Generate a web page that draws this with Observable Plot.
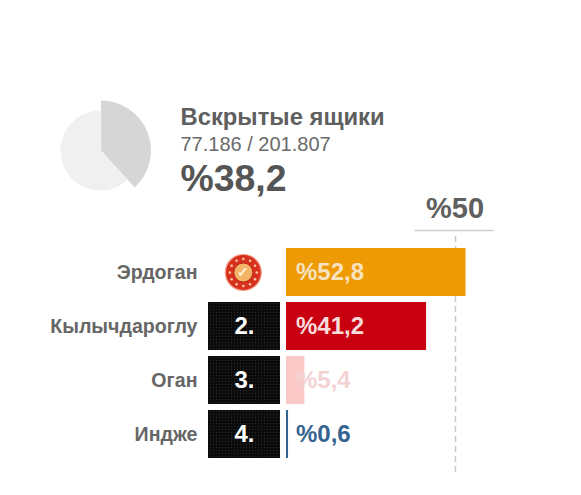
<!DOCTYPE html>
<html><head><meta charset="utf-8">
<script src="https://cdn.jsdelivr.net/npm/d3@7"></script>
<script src="https://cdn.jsdelivr.net/npm/@observablehq/plot@0.6"></script>
<style>html,body{margin:0;padding:0;background:#fff}svg{display:block}</style>
</head><body><div id="chart"></div>
<script>
const candidates = ["Эрдоган","Кылычдароглу","Оган","Индже"];
const shares = [52.8,41.2,5.4,0.6];
const shareLabels = ["%52,8","%41,2","%5,4","%0,6"];
const ranks = ["","2.","3.","4."];
const barColors = ["#ee9a05","#c8000f","#fcc9c9","#34638f"];
const labelColors = ["#f7e3c0","#f8dcdc","#f3d3d3","#34638f"];
const openedShare = 38.2;
const threshold = 50;
const thresholdLabel = "%50";
const headTitle = "Вскрытые ящики";
const headCounts = "77.186 / 201.807";
const headShare = "%38,2";

const rows = candidates.map((c,i)=>({c,v:shares[i],l:shareLabels[i],r:ranks[i],col:barColors[i],lc:labelColors[i]}));
const fontStack = "'Liberation Sans',Arimo,Helvetica,Arial,sans-serif";
const slice = (a,b)=>({draw(ctx,size){
  d3.arc().innerRadius(0).outerRadius(Math.sqrt(size/Math.PI)).startAngle(a).endAngle(b).context(ctx)();
}});
const A = openedShare/100*2*Math.PI;
const headText = (text,dy,size,weight,fill)=>Plot.text([text],{frameAnchor:"top-left",dx:180,dy,text:d=>d,fontSize:size,fontWeight:weight,fill,textAnchor:"start",lineAnchor:"middle"});
const leader = candidates[0];
const iconStars = d3.range(12).map(i=>i/12*2*Math.PI);
const texture = () => {
  const defs = d3.create("svg:defs");
  const p = defs.append("pattern").attr("id","rankTexture").attr("patternUnits","userSpaceOnUse").attr("width",3).attr("height",3);
  p.append("rect").attr("width",3).attr("height",3).attr("fill","#0b0b0b");
  p.append("rect").attr("width",1).attr("height",1).attr("fill","#2b2b2b");
  return defs.node();
};
const iconX = -12.7;

const chart = Plot.plot({
  width:581,height:495,margin:0,
  style:{fontFamily:fontStack,background:"#fff"},
  x:{type:"linear",domain:[0,100],range:[286,626],axis:null},
  y:{type:"band",domain:candidates,range:[242,464],padding:0.111,axis:null},
  marks:[
    texture,
    Plot.dot([0],{frameAnchor:"top-left",dx:100,dy:150,r:40,symbol:slice(A,2*Math.PI),fill:"#f0f0f0"}),
    Plot.dot([0],{frameAnchor:"top-left",dx:100.5,dy:150,r:50,symbol:slice(0,A),fill:"#d6d6d6"}),
    headText(headTitle,117,23.8,"bold","#5f5f5f"),
    headText(headCounts,144,20,"normal","#6a6a6a"),
    headText(headShare,179,37.4,"bold","#555"),
    Plot.text([thresholdLabel],{x:()=>threshold,y:()=>leader,dx:-1.5,dy:-64,text:d=>d,fontSize:29,fontWeight:"bold",fill:"#5f5f5f"}),
    Plot.ruleY([leader],{y:d=>d,x1:()=>threshold-11.8,x2:()=>threshold+11.5,dx:-1.5,dy:-42,stroke:"#cfcfcf",strokeWidth:1.5}),
    Plot.ruleX([threshold],{dx:-1,stroke:"#c9c9c9",strokeWidth:1.5,strokeDasharray:"6,4",insetTop:236,insetBottom:20}),
    Plot.barX(rows,{x1:0,x2:"v",y:"c",fill:"col"}),
    Plot.barX(rows.filter(d=>d.r),{x1:-22.94,x2:-1.76,y:"c",fill:"url(#rankTexture)"}),
    Plot.text(rows,{x:0,y:"c",text:"c",textAnchor:"end",dx:-89,fontSize:19.6,fontWeight:"bold",fill:"#666"}),
    Plot.text(rows,{x:-12.35,y:"c",text:"r",fontSize:24,fontWeight:"bold",fill:"#fff"}),
    Plot.text(rows,{x:0,y:"c",text:"l",textAnchor:"start",dx:9.5,fontSize:24,fontWeight:"bold",fill:"lc"}),
    Plot.dot([leader],{x:()=>iconX,y:d=>d,r:18,fill:"#d8321f",stroke:"#f2a58f",strokeWidth:1.2}),
    Plot.dot(iconStars,{x:()=>iconX,y:()=>leader,r:1.3,fill:"#f6c9a8",
      render(i,s,v,d,c,next){
        const g=next(i,s,v,d,c);
        d3.select(g).selectAll("circle").attr("transform",k=>`translate(${13.5*Math.sin(iconStars[k])},${13.5*Math.cos(iconStars[k])})`);
        return g;
      }}),
    Plot.dot([leader],{x:()=>iconX,y:d=>d,r:9.5,fill:"#f2b565",stroke:"#b8261a",strokeWidth:1}),
    Plot.text([leader],{x:()=>iconX,y:d=>d,text:()=>"✓",fontSize:14,fontWeight:"bold",fill:"#fff3df"})
  ]
});
document.getElementById("chart").append(chart);
</script></body></html>
